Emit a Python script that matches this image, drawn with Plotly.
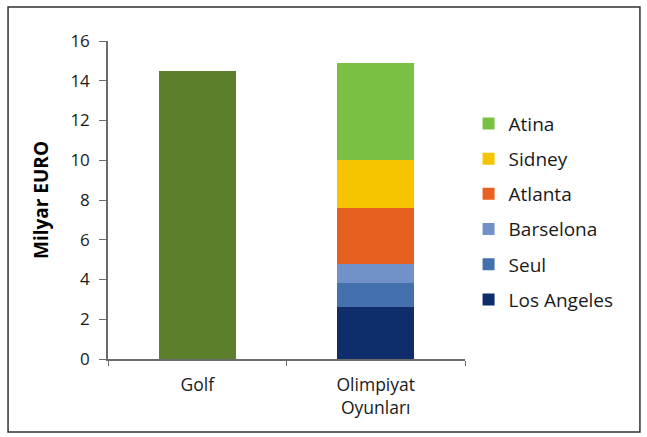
import plotly.graph_objects as go

# Categories on the x axis
categories = ["Golf", "Olimpiyat<br>Oyunları"]

# Golf total (billion EUR)
golf_value = [14.5]

# Olympic Games cost, stacked by host city (bottom to top)
cities = ["Los Angeles", "Seul", "Barselona", "Atlanta", "Sidney", "Atina"]
city_values = [2.6, 1.2, 1.0, 2.8, 2.4, 4.9]
city_colors = ["#0f2d6b", "#4470ad", "#7092c8", "#e8601f", "#f7c400", "#7ac143"]

golf_color = "#5b7f2b"

fig = go.Figure()

fig.add_trace(go.Bar(
    x=[categories[0]], y=golf_value,
    marker=dict(color=golf_color, line=dict(width=0)),
    width=0.43, showlegend=False, name="Golf",
))

n = len(cities)
for i, (city, val, col) in enumerate(zip(cities, city_values, city_colors)):
    fig.add_trace(go.Bar(
        x=[categories[1]], y=[val], name=city,
        marker=dict(color=col, line=dict(width=0)),
        width=0.43, legendgroup=city,
        legendrank=n - i,  # top of the stack listed first
    ))

font_family = "'Open Sans', sans-serif"

fig.update_layout(
    barmode="stack",
    width=647, height=437,
    margin=dict(l=108, r=182, t=41, b=78),
    paper_bgcolor="white", plot_bgcolor="white",
    font=dict(family=font_family, size=17, color="#1a1a1a"),
    showlegend=True,
    legend=dict(
        traceorder="grouped",
        x=1.01, y=0.80, xanchor="left", yanchor="top",
        font=dict(size=19, color="#1a1a1a"),
        tracegroupgap=7.5,
        bgcolor="rgba(0,0,0,0)",
    ),
    xaxis=dict(
        showline=True, linecolor="#6b6b6b", linewidth=1.5,
        ticks="outside", ticklen=5, tickcolor="#6b6b6b",
        tickson="boundaries", showgrid=False,
        tickfont=dict(size=17.5),
        ticklabelstandoff=9,
    ),
    yaxis=dict(
        range=[0, 16], dtick=2,
        showline=True, linecolor="#6b6b6b", linewidth=1.5,
        ticks="outside", ticklen=7, tickcolor="#6b6b6b",
        showgrid=False, zeroline=False,
        tickfont=dict(size=17),
        ticklabelstandoff=6,
        title=dict(text="<b>Milyar EURO</b>", font=dict(size=19, color="#000"), standoff=17),
    ),
    shapes=[dict(
        type="rect", xref="paper", yref="paper",
        x0=-0.280, x1=1.490, y0=-0.2296, y1=1.107,
        line=dict(color="#303030", width=1.5),
    )],
)

fig.write_html("out.html")
